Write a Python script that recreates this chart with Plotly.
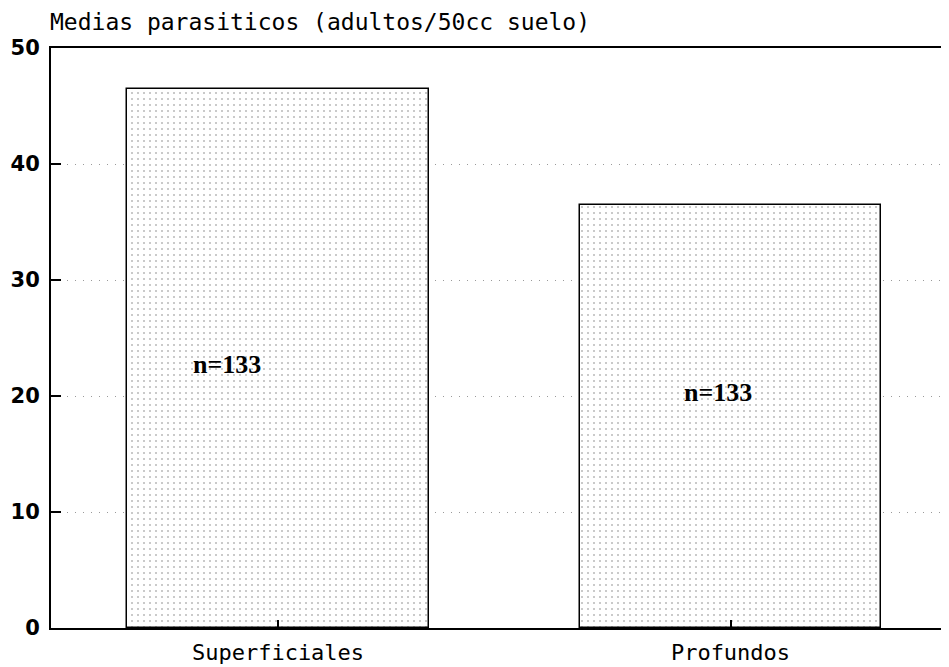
import plotly.graph_objects as go

categories = ["Superficiales", "Profundos"]
means = [46.5, 36.5]
n_labels = ["n=133", "n=133"]
n_label_y = [22.7, 20.3]
y_ticks = [0, 10, 20, 30, 40, 50]
title_text = "Medias parasiticos (adultos/50cc suelo)"

fig = go.Figure()
fig.add_trace(go.Bar(
    x=[0, 1],
    y=means,
    width=0.667,
    marker=dict(
        color="white",
        line=dict(color="black", width=1.5),
        pattern=dict(shape=".", fgcolor="#7a7a7a", bgcolor="white", size=6, solidity=0.1),
    ),
    showlegend=False,
    hoverinfo="skip",
))

label_dx = [-0.113, -0.028]
for i, (txt, yv) in enumerate(zip(n_labels, n_label_y)):
    fig.add_annotation(
        x=i + label_dx[i], y=yv, text=txt, showarrow=False,
        font=dict(family="Liberation Serif", size=26, color="black", weight="bold"),
        xanchor="center", yanchor="middle",
    )

fig.add_annotation(
    xref="paper", yref="paper", x=-0.003, y=1.045, text=title_text,
    showarrow=False, xanchor="left", yanchor="middle",
    font=dict(family="DejaVu Sans Mono", size=23, color="black"),
)

fig.update_xaxes(
    range=[-0.5017, 1.4829],
    tickvals=[0, 1],
    ticktext=categories,
    ticks="inside", ticklen=8, tickcolor="black", tickwidth=1.5,
    showline=True, linecolor="black", linewidth=2, mirror=True,
    showgrid=False, zeroline=False,
    tickfont=dict(family="DejaVu Sans Mono", size=22, color="black"),
    ticklabelstandoff=4,
)
fig.update_yaxes(
    range=[0, 50],
    tickvals=y_ticks,
    ticks="inside", ticklen=10, tickcolor="black", tickwidth=1.5,
    showline=True, linecolor="black", linewidth=2,
    showgrid=True, gridcolor="#9a9a9a", gridwidth=1, griddash="1px,7px",
    zeroline=False,
    tickfont=dict(family="DejaVu Sans", size=21, color="black", weight="bold"),
    ticklabelstandoff=5,
)

fig.update_layout(
    width=941, height=659,
    margin=dict(l=43, r=0, t=40, b=39),
    paper_bgcolor="white", plot_bgcolor="white",
    bargap=0,
)

fig.write_html("out.html")
